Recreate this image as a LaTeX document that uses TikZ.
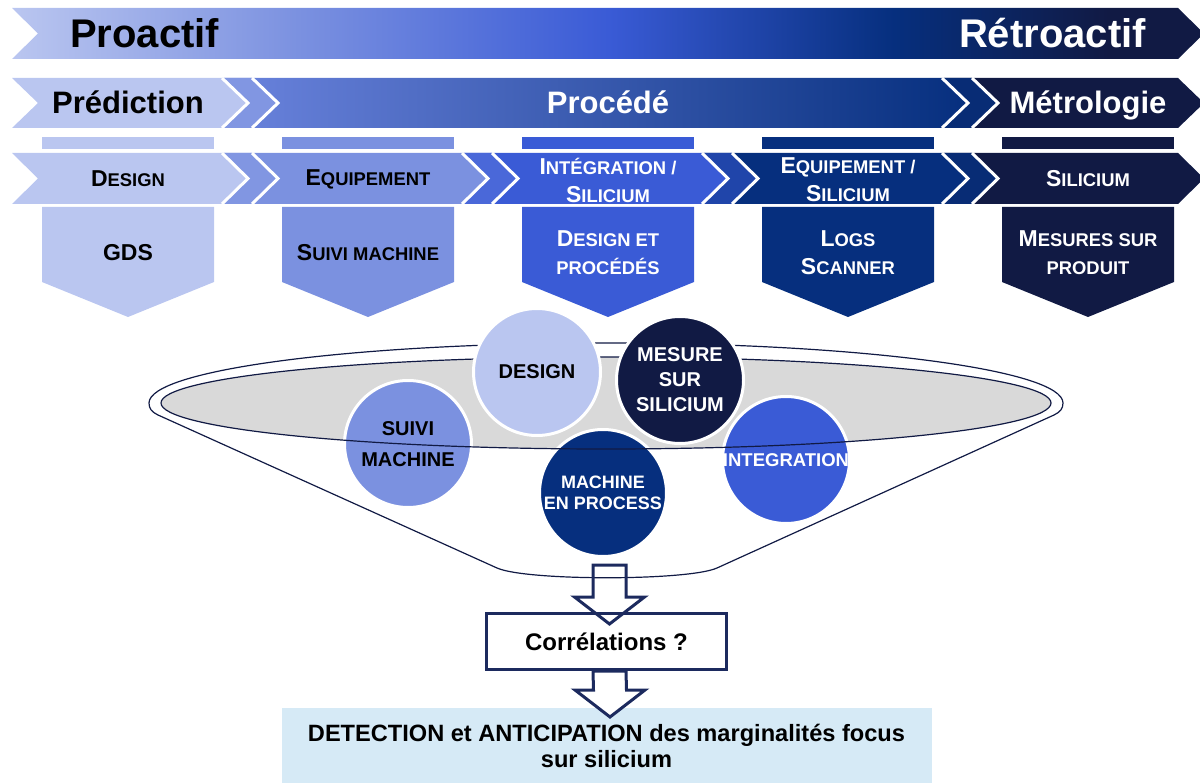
\documentclass[tikz,border=0pt]{standalone}
\usepackage{fontspec}
\setmainfont{Liberation Sans}
\usetikzlibrary{positioning,calc}

\definecolor{bleuA}{RGB}{186,198,240}
\definecolor{bleuB}{RGB}{123,145,224}
\definecolor{bleuC}{RGB}{58,91,214}
\definecolor{bleuD}{RGB}{6,47,126}
\definecolor{bleuE}{RGB}{17,26,68}
\definecolor{trait}{RGB}{28,42,94}
\definecolor{gris}{RGB}{217,217,217}
\definecolor{ciel}{RGB}{214,234,246}

\pgfdeclarehorizontalshading{proretro}{100bp}{color(0bp)=(bleuA); color(25bp)=(bleuA); color(37bp)=(bleuB); color(50bp)=(bleuC); color(62bp)=(bleuD); color(71bp)=(bleuE); color(100bp)=(bleuE)}

% petites capitales "a la PowerPoint"
\newcommand{\smc}[1]{{\fontsize{18.4}{28}\selectfont #1}}
% chevron : style, x gauche, x droit, y haut, y bas
\newcommand{\chev}[5]{\path[#1] (#2,#4) -- (#3,#4) -- ({#3+26},{(#4+#5)/2}) -- (#3,#5) -- (#2,#5) -- ({#2+26},{(#4+#5)/2}) -- cycle;}
\newcommand{\sepline}[3]{\draw[sep line] (#1,#2) -- ({#1+26},{(#2+#3)/2}) -- (#1,#3);}
% barre + fleche pentagone d'une colonne
\newcommand{\colonne}[2]{%
	\fill[#1] ({#2-86},137) rectangle ({#2+86},149);
	\fill[#1] ({#2-86},207) -- ({#2+86},207) -- ({#2+86},282) -- (#2,317) -- ({#2-86},282) -- cycle;}
\newcommand{\flecheblock}[3][]{\draw[block arrow,#1] ($(#2)+(-16.5,0)$) -- ($(#3)+(-16.5,-27)$) -- ($(#3)+(-35,-27)$) -- (#3) -- ($(#3)+(35,-27)$) -- ($(#3)+(16.5,-27)$) -- ($(#2)+(16.5,0)$) -- cycle;}

\tikzset{band one/.style={font=\bfseries\fontsize{40}{44}\selectfont,inner sep=0pt,anchor=base},
	band two/.style={font=\bfseries\fontsize{31}{34}\selectfont,inner sep=0pt,anchor=base,text=white},
	head text/.style={font=\bfseries\fontsize{23}{28}\selectfont,align=center,inner sep=0pt},
	ball/.style={circle,draw=white,line width=3pt,minimum size=127pt,inner sep=0pt,align=center,font=\bfseries\fontsize{20}{25}\selectfont},
	sep line/.style={white,line width=3pt},
	funnel line/.style={draw=bleuE,line width=1.2pt},
	block arrow/.style={draw=trait,line width=3pt,line join=miter},
	corr box/.style={draw=trait,line width=3pt,fill=white,minimum width=240pt,minimum height=56pt,font=\bfseries\fontsize{24}{26}\selectfont},
	result box/.style={fill=ciel,minimum width=650pt,minimum height=75pt,align=center,font=\bfseries\fontsize{23.6}{26}\selectfont},
}

\begin{document}
\begin{tikzpicture}[x=1pt,y=-1pt]
	\useasboundingbox (0,0) rectangle (1200,783);

	% bandeau proactif / retroactif
	\chev{shade,shading=proretro}{12}{1178}{8}{59}
	\node[band one,anchor=base west] (proactif) at (70,48) {Proactif};
	\node[band one,anchor=base east,text=white] (retroactif) at (1146,48) {Rétroactif};

	% prediction / procede / metrologie
	\chev{fill=bleuA}{12}{222}{78}{128}
	\chev{left color=bleuB!75!bleuC,middle color=bleuC,right color=bleuD}{222}{942}{78}{128}
	\chev{fill=bleuE}{942}{1178}{78}{128}
	\chev{fill=bleuB!90!bleuA}{222}{252}{78}{128}
	\chev{fill=bleuD!85!bleuE}{942}{972}{78}{128}
	\sepline{222}{78}{128}
	\sepline{252}{78}{128}
	\sepline{942}{78}{128}
	\sepline{972}{78}{128}
	\node[band two,text=black] (prediction) at (128,114) {Prédiction};
	\node[band two] (procede) at (608,114) {Procédé};
	\node[band two] (metrologie) at (1088,114) {Métrologie};

	% colonnes
	\colonne{bleuA}{128}
	\colonne{bleuB}{368}
	\colonne{bleuC}{608}
	\colonne{bleuD}{848}
	\colonne{bleuE}{1088}
	\chev{fill=bleuA}{12}{222}{153}{204}
	\chev{fill=bleuB}{222}{462}{153}{204}
	\chev{fill=bleuC}{462}{702}{153}{204}
	\chev{fill=bleuD}{702}{942}{153}{204}
	\chev{fill=bleuE}{942}{1178}{153}{204}
	\chev{fill=bleuB!90!bleuA}{222}{252}{153}{204}
	\chev{fill=bleuC!75!bleuB}{462}{492}{153}{204}
	\chev{fill=bleuD!50!bleuC}{702}{732}{153}{204}
	\chev{fill=bleuD!85!bleuE}{942}{972}{153}{204}
	\sepline{222}{153}{204}
	\sepline{252}{153}{204}
	\sepline{462}{153}{204}
	\sepline{492}{153}{204}
	\sepline{702}{153}{204}
	\sepline{732}{153}{204}
	\sepline{942}{153}{204}
	\sepline{972}{153}{204}

	\node[head text] (h1) at (128,179) {D\smc{ESIGN}};
	\node[head text] (h2) at (368,179) {E\smc{QUIPEMENT}};
	\node[head text,text=white] (h3) at (608,180) {I\smc{NTÉGRATION /}\\S\smc{ILICIUM}};
	\node[head text,text=white] (h4) at (848,180) {E\smc{QUIPEMENT /}\\S\smc{ILICIUM}};
	\node[head text,text=white] (h5) at (1088,179) {S\smc{ILICIUM}};

	\node[head text] (p1) at (128,253) {GDS};
	\node[head text] (p2) at (368,253) {S\smc{UIVI MACHINE}};
	\node[head text,text=white] (p3) at (608,253) {D\smc{ESIGN ET}\\\smc{PROCÉDÉS}};
	\node[head text,text=white] (p4) at (848,253) {L\smc{OGS}\\S\smc{CANNER}};
	\node[head text,text=white] (p5) at (1088,253) {M\smc{ESURES SUR}\\\smc{PRODUIT}};

	% entonnoir
	\draw[funnel line] (149,403) arc[start angle=180,end angle=360,x radius=457,y radius=60] .. controls (1063,409) and (1060,412) .. (1054,415) -- (717,568) .. controls (688,581) and (526,581) .. (497,568) -- (158,415) .. controls (152,412) and (149,409) .. (149,403) -- cycle;
	\fill[gris] (606,403) ellipse[x radius=445,y radius=46];

	\node[ball,fill=bleuB,font=\bfseries\fontsize{20}{31}\selectfont] (suivi) at (408,444) {SUIVI\\MACHINE};
	\node[ball,fill=bleuC,text=white,font=\bfseries\fontsize{18.5}{22}\selectfont] (integ) at (786,460) {INTEGRATION};
	\node[ball,fill=bleuD,text=white,font=\bfseries\fontsize{18}{21}\selectfont] (machine) at (603,493) {MACHINE\\EN PROCESS};
	\draw[funnel line] (606,403) ellipse[x radius=445,y radius=46];
	\node[ball,fill=bleuA] (design) at (537,372) {DESIGN};
	\node[ball,fill=bleuE,text=white] (mesure) at (680,380) {MESURE\\SUR\\SILICIUM};

	% correlations et resultat
	\node[corr box] (corr) at (606.5,641.5) {Corrélations ?};
	\node[result box] (result) [below = 37pt of corr] {DETECTION et ANTICIPATION des marginalités focus\\sur silicium};

	\coordinate (fbot) at (609.5,565);
	\coordinate (tip1) at ($(corr.north)+(3,12)$);
	\coordinate (tail2) at ($(corr.south)+(3,0)$);
	\coordinate (tip2) at ($(result.north)+(3.5,9)$);
	\flecheblock{fbot}{tip1}
	\flecheblock[fill=white]{tail2}{tip2}
\end{tikzpicture}
\end{document}
